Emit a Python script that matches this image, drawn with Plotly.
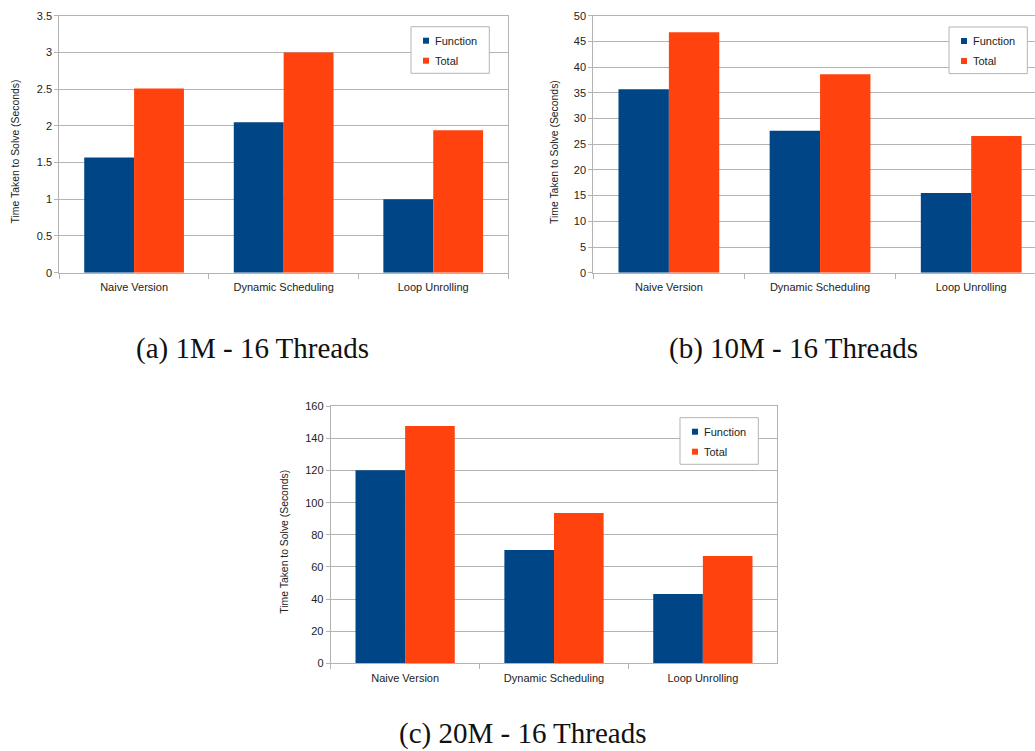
import plotly.graph_objects as go

# Benchmark timings (seconds) for three parallel variants, 16 threads
categories = ["Naive Version", "Dynamic Scheduling", "Loop Unrolling"]

function_1m = [1.57, 2.05, 1.00]
total_1m = [2.51, 3.00, 1.94]

function_10m = [35.7, 27.6, 15.5]
total_10m = [46.8, 38.6, 26.6]

function_20m = [120.2, 70.5, 43.2]
total_20m = [147.8, 93.6, 66.8]

captions = ["(a) 1M - 16 Threads", "(b) 10M - 16 Threads", "(c) 20M - 16 Threads"]
y_title = "Time Taken to Solve (Seconds)"
series_names = ["Function", "Total"]

W, H = 1035, 751
BLUE = "#004586"
ORANGE = "#ff420e"
GRID = "#b3b3b3"
TEXT = "#222222"
SANS = "Liberation Sans"


def px_x(v):
    return v / W


def px_y(v):
    return 1 - v / H


panels = [
    dict(sfx="", fn=function_1m, tot=total_1m, box=(59.3, 508.0, 15.7, 272.7),
         yr=[0, 3.5], dt=0.5, xend=2.5, mirror_y=True,
         leg=(411, 26.7), title_at=(15.7, 151.7), cap=captions[0], cap_at=(252, 348)),
    dict(sfx="2", fn=function_10m, tot=total_10m, box=(593.3, 1035.0, 15.7, 272.7),
         yr=[0, 50], dt=5, xend=2.5 - 11.8 / 151.2, mirror_y=False,
         leg=(949, 27.0), title_at=(554.3, 151.7), cap=captions[1], cap_at=(793, 348)),
    dict(sfx="3", fn=function_20m, tot=total_20m, box=(330.7, 777.3, 406.3, 663.3),
         yr=[0, 160], dt=20, xend=2.5, mirror_y=True,
         leg=(680, 417.7), title_at=(285, 541.7), cap=captions[2], cap_at=(523, 733.5)),
]

fig = go.Figure()
layout = dict(
    width=W, height=H,
    margin=dict(l=0, r=0, t=0, b=0, autoexpand=False),
    paper_bgcolor="white", plot_bgcolor="white",
    barmode="group", bargap=1 / 3, bargroupgap=0,
    font=dict(family=SANS, size=11, color=TEXT),
    showlegend=False,
)
annotations = []
shapes = []

LEG_W, LEG_H = 78.3, 46.6
SWATCH = 6

for p in panels:
    sfx = p["sfx"]
    xa, ya = "x" + sfx, "y" + sfx
    for name, vals, col in [(series_names[0], p["fn"], BLUE), (series_names[1], p["tot"], ORANGE)]:
        fig.add_trace(go.Bar(x=categories, y=vals, name=name,
                             marker=dict(color=col, line=dict(width=0)),
                             xaxis=xa, yaxis=ya))

    l, r, t, b = p["box"]
    layout["xaxis" + sfx] = dict(
        domain=[px_x(l), px_x(r)], anchor=ya, type="category",
        range=[-0.5, p["xend"]], showgrid=False, showline=True, linecolor=GRID, linewidth=1,
        mirror=True, ticks="outside", tickson="boundaries", ticklen=5, tickcolor=GRID,
        ticklabelstandoff=4,
        tickfont=dict(family=SANS, size=11, color=TEXT), fixedrange=True, automargin=False,
    )
    layout["yaxis" + sfx] = dict(
        domain=[px_y(b), px_y(t)], anchor=xa, range=p["yr"], dtick=p["dt"],
        showgrid=True, gridcolor=GRID, gridwidth=1, zeroline=False,
        showline=True, linecolor=GRID, linewidth=1, mirror=p["mirror_y"],
        ticks="outside", ticklen=4, tickcolor=GRID,
        tickfont=dict(family=SANS, size=11, color=TEXT), fixedrange=True, automargin=False,
    )

    # legend box with two colour keys
    lx, ly = p["leg"]
    shapes.append(dict(type="rect", xref="paper", yref="paper", layer="above",
                       x0=px_x(lx), x1=px_x(lx + LEG_W), y0=px_y(ly + LEG_H), y1=px_y(ly),
                       fillcolor="white", line=dict(color=GRID, width=1)))
    for i, (name, col) in enumerate([(series_names[0], BLUE), (series_names[1], ORANGE)]):
        cy = ly + 14 + 20 * i
        cx = lx + 15
        shapes.append(dict(type="rect", xref="paper", yref="paper", layer="above",
                           x0=px_x(cx - SWATCH / 2), x1=px_x(cx + SWATCH / 2),
                           y0=px_y(cy + SWATCH / 2), y1=px_y(cy - SWATCH / 2),
                           fillcolor=col, line=dict(width=0)))
        annotations.append(dict(
            text=name, x=px_x(lx + 21.5), y=px_y(cy), xref="paper", yref="paper",
            showarrow=False, xanchor="left", yanchor="middle",
            font=dict(family=SANS, size=11, color=TEXT),
        ))

    tx, ty = p["title_at"]
    annotations.append(dict(
        text=y_title, x=px_x(tx), y=px_y(ty), xref="paper", yref="paper",
        textangle=-90, showarrow=False, xanchor="center", yanchor="middle",
        font=dict(family=SANS, size=10.4, color=TEXT),
    ))
    cx, cy = p["cap_at"]
    annotations.append(dict(
        text=p["cap"], x=px_x(cx), y=px_y(cy), xref="paper", yref="paper",
        showarrow=False, xanchor="center", yanchor="middle",
        font=dict(family="Liberation Serif", size=29, color="#111111"),
    ))

layout["annotations"] = annotations
layout["shapes"] = shapes
fig.update_layout(**layout)
fig.write_html("out.html")
